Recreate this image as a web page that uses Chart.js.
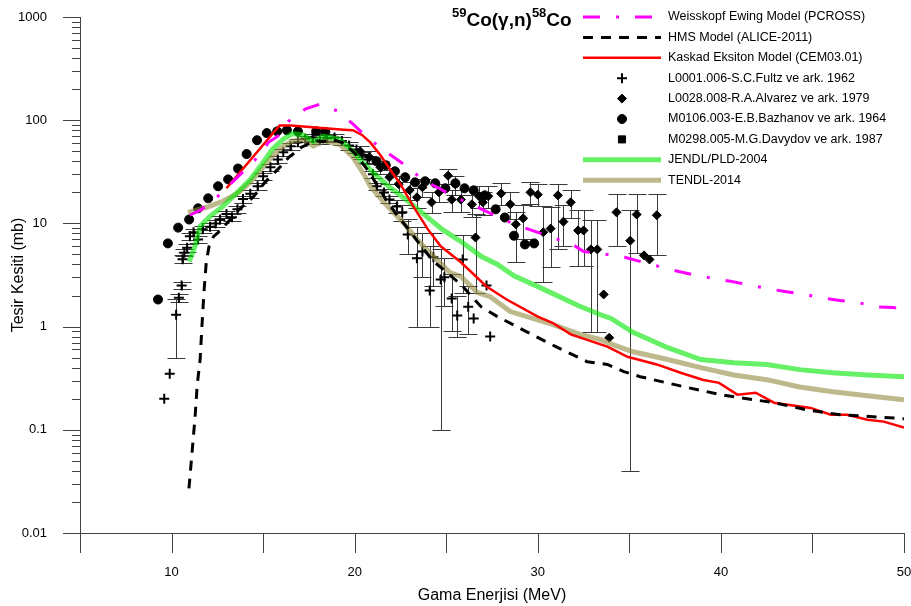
<!DOCTYPE html>
<html>
<head>
<meta charset="utf-8">
<script src="https://cdn.jsdelivr.net/npm/chart.js@4.4.1/dist/chart.umd.min.js"></script>
<style>
html, body { margin: 0; padding: 0; background: #fff; }
#wrap { width: 911px; height: 606px; }
</style>
</head>
<body>
<div id="wrap"><canvas id="chart" width="911" height="606"></canvas></div>
<script>
// axis ranges and tick labels
const xMin = 5, xMax = 50;
const xTickLabels = [10, 20, 30, 40, 50];
const yMajorTicks = [0.01, 0.1, 1, 10, 100, 1000];
const yMinorSteps = [2, 3, 4, 5, 6, 7, 8, 9];

// Weisskopf Ewing Model (PCROSS)
const pcrossE = [11.0, 11.6, 12.3, 13.5, 14.5, 15.3, 15.8, 16.4, 17.3, 18.1, 19.1, 19.9, 20.5, 21.3, 22.2, 22.9, 23.7, 24.7, 25.4, 27.3, 28.1, 29.1, 30.0, 30.8, 31.9, 32.5, 33.8, 34.8, 35.8, 36.6, 37.7, 38.7, 39.6, 40.6, 41.7, 42.5, 43.5, 44.6, 45.4, 46.5, 47.5, 48.4, 49.4, 50.0];
const pcrossV = [12, 13.5, 16.7, 27, 40, 61, 70, 98, 128, 143, 122, 92, 73, 56, 43, 35, 26.7, 21.4, 18.3, 12.8, 10.9, 9.3, 8.2, 7.3, 6.25, 5.35, 5.0, 4.68, 4.18, 3.83, 3.42, 3.13, 2.92, 2.73, 2.5, 2.34, 2.19, 2.05, 1.91, 1.79, 1.71, 1.56, 1.53, 1.48];

// HMS Model (ALICE-2011)
const hmsE = [10.95, 11.28, 11.4, 11.56, 11.68, 11.78, 11.9, 12.05, 12.3, 12.55, 13.1, 13.7, 14.45, 15.1, 15.8, 16.4, 17.1, 17.8, 18.3, 18.8, 19.4, 20.0, 20.6, 21.2, 21.8, 22.4, 23.0, 23.7, 24.3, 24.9, 25.8, 26.9, 27.8, 29.4, 31.1, 32.7, 33.8, 34.7, 35.6, 36.3, 38.2, 40.0, 41.1, 42.9, 44.7, 46.5, 48.3, 50.0];
const hmsV = [0.027, 0.13, 0.27, 0.48, 1.17, 2.3, 4.3, 6.0, 7.5, 8.2, 10.4, 13.7, 17.9, 25, 33.4, 43.6, 54.7, 63, 62, 65, 60, 48, 35, 24, 16, 11.5, 8.5, 5.8, 4.3, 3.5, 2.56, 1.56, 1.25, 0.89, 0.625, 0.457, 0.43, 0.366, 0.327, 0.306, 0.256, 0.219, 0.204, 0.183, 0.156, 0.14, 0.134, 0.128];

// Kaskad Eksiton Model (CEM03.01)
const cemE = [13.0, 15.9, 16.5, 19.4, 19.9, 20.4, 20.85, 21.4, 21.9, 22.5, 23.2, 24.0, 24.7, 25.8, 27.2, 28.3, 30.0, 30.8, 31.8, 33.8, 34.9, 36.5, 37.8, 39.0, 39.9, 40.9, 41.9, 42.9, 44.9, 46.0, 46.9, 48.0, 48.9, 50.0];
const cemV = [21.9, 89, 89, 81, 80, 72, 61, 46, 34, 24, 14.6, 8.75, 6.0, 4.2, 2.45, 1.83, 1.25, 1.09, 0.84, 0.64, 0.51, 0.43, 0.357, 0.306, 0.285, 0.219, 0.229, 0.183, 0.163, 0.14, 0.14, 0.125, 0.12, 0.105];

// JENDL/PLD-2004
const jendlE = [10.96, 11.28, 11.56, 12.1, 12.8, 13.6, 14.3, 15.0, 15.5, 16.1, 16.6, 17.2, 17.75, 18.3, 19.2, 19.9, 20.5, 21.2, 21.9, 23.0, 24.1, 24.8, 25.9, 26.9, 27.8, 28.7, 30.1, 32.2, 33.4, 34.0, 35.2, 37.1, 38.9, 40.7, 42.5, 44.3, 46.1, 48.0, 50.0];
const jendlV = [4.27, 6.0, 9.4, 11.7, 14.6, 20, 26.7, 39, 52, 65.5, 74, 72, 62, 70, 65, 50, 38, 29, 22.5, 16, 11, 8.7, 6.5, 4.8, 4.0, 3.1, 2.4, 1.6, 1.31, 1.2, 0.88, 0.625, 0.48, 0.447, 0.43, 0.383, 0.357, 0.34, 0.327];

// TENDL-2014
const tendlE = [10.9, 12.0, 12.8, 13.6, 14.3, 15.0, 15.5, 16.1, 16.6, 17.2, 17.75, 18.3, 19.2, 19.9, 20.5, 20.85, 21.6, 22.65, 23.4, 24.3, 25.2, 25.8, 26.7, 27.4, 28.5, 30.8, 32.3, 33.4, 34.1, 35.2, 36.0, 37.1, 38.9, 40.7, 42.5, 44.3, 46.1, 48.0, 50.0];
const tendlV = [12.8, 14.5, 16.4, 19.5, 25, 35, 45, 56, 63, 65, 56, 63, 58, 44, 30, 23, 16, 10.2, 7, 4.8, 3.34, 3.06, 2.14, 1.95, 1.4, 1.05, 0.84, 0.75, 0.67, 0.57, 0.53, 0.48, 0.4, 0.34, 0.306, 0.26, 0.234, 0.214, 0.195];

// L0001.006 S.C.Fultz 1962 (value, lower and upper error bound)
const fultzE = [9.6, 9.9, 10.25, 10.4, 10.55, 10.6, 10.7, 10.85, 11.0, 11.2, 11.45, 11.7, 12.1, 12.4, 12.65, 13.0, 13.3, 13.6, 13.9, 14.3, 14.7, 15.0, 15.4, 15.8, 16.1, 16.5, 16.9, 17.3, 17.7, 18.1, 18.5, 18.9, 19.3, 19.7, 20.1, 20.4, 20.7, 21.0, 21.2, 21.6, 21.9, 22.3, 22.6, 22.9, 23.4, 23.7, 24.1, 24.3, 24.7, 24.9, 25.3, 25.6, 25.9, 26.2, 26.5, 27.2, 27.4];
const fultzV = [0.2, 0.35, 1.3, 1.9, 2.5, 4.5, 5.2, 5.8, 7.5, 8.2, 7.0, 8.8, 9.3, 10.0, 10.9, 12.3, 11.5, 13.7, 17.2, 19.4, 22.9, 28.6, 35, 41.7, 49, 56, 61, 66, 68, 64, 67, 68, 63, 57, 52, 46, 41.7, 30, 22.9, 19.9, 17, 14.6, 12.8, 7.8, 4.6, 5.35, 2.24, 4.7, 2.86, 3.0, 1.87, 1.28, 4.47, 1.56, 1.2, 2.5, 0.8];
const fultzLo = [null, null, 0.5, 1.75, 2.3, 4.1, 4.8, 5.3, 6.9, 7.5, 6.4, 8.1, 8.6, 9.2, 10.0, 11.3, 10.6, 12.6, 15.8, 17.8, 21, 26.3, 32.2, 38.4, 45, 51.5, 56, 61, 63, 59, 62, 63, 58, 52, 47.8, 42.3, 38.4, 27.6, 21, 18.3, 15.6, 12.5, 10.5, 5, 1.0, 3.0, 1.0, 2.5, 0.1, 1.6, 0.9, 0.8, 2.14, 0.85, null, null, null];
const fultzHi = [null, null, 1.85, 2.05, 2.7, 4.9, 5.6, 6.3, 8.1, 8.9, 7.6, 9.5, 10.1, 10.8, 11.8, 13.3, 12.4, 14.8, 18.6, 21, 24.8, 30.9, 37.8, 45, 53, 60.5, 66, 71, 73, 69, 72, 73, 68, 62, 56.2, 49.7, 45, 32.4, 24.8, 21.5, 18.4, 16.7, 15.1, 11, 9.3, 8.0, 6.0, 8.0, 5.6, 4.6, 3.2, 2.0, 7.8, 2.5, null, null, null];

// L0028.008 R.A.Alvarez 1979
const alvarezE = [20.3, 20.8, 21.4, 21.9, 22.4, 23.0, 23.4, 23.7, 24.2, 24.6, 25.1, 25.3, 25.5, 25.8, 26.4, 26.6, 26.8, 27.0, 27.3, 28.0, 28.5, 28.8, 29.2, 29.6, 30.0, 30.3, 30.7, 31.1, 31.4, 31.8, 32.2, 32.5, 32.9, 33.25, 33.6, 33.9, 34.3, 35.05, 35.4, 35.8, 36.1, 36.5];
const alvarezV = [50, 44, 35, 28, 24, 21, 17.9, 22.4, 16, 20, 29, 17, 23.9, 17, 15.3, 7.3, 18.3, 16, 18.3, 19.5, 15.3, 9.8, 11.2, 20, 19, 8.2, 8.9, 18.7, 10.4, 16, 8.55, 8.55, 5.6, 5.6, 2.05, 0.78, 12.8, 6.8, 12.2, 4.9, 4.47, 12];
const alvarezLo = [44, 38, 30, 24, 20, 17, 14, 18, 12.5, 16, 24, 13, 19, 13, 11.5, 2.14, 14, 12, 14, 15, 11, 4.2, 7, 15.5, 14.6, 2.73, 3.74, 5.6, 6, 11.4, 3.9, 3.9, 0.89, 0.89, null, null, 6.0, 0.04, 5.2, null, null, 4.9];
const alvarezHi = [56, 50, 40, 33, 29, 25, 22, 27, 20, 24, 34, 21, 29, 21, 19, 12.2, 23, 20, 23, 24.5, 20, 13, 15, 25, 24, 14.6, 14.3, 23.9, 15, 20.9, 13.6, 13.6, 10.9, 10.9, null, null, 19.2, 13.6, 19.2, null, null, 19.2];

// M0106.003 E.B.Bazhanov 1964
const bazhanovE = [9.26, 9.8, 10.36, 10.96, 11.45, 12.0, 12.54, 13.09, 13.63, 14.1, 14.67, 15.2, 15.77, 16.3, 16.9, 17.9, 18.4, 21.2, 21.7, 22.2, 22.76, 23.3, 23.85, 24.4, 24.95, 25.5, 26.0, 26.5, 27.1, 27.7, 28.2, 28.7, 29.3, 29.8];
const bazhanovV = [1.83, 6.4, 9.1, 10.9, 14, 17.5, 22.9, 26.7, 34, 47, 64, 75, 78, 80, 78, 78, 77, 40, 36.6, 32, 28, 25, 25.6, 24.5, 21.9, 24.5, 21.9, 20.9, 18.7, 13.7, 11.4, 7.6, 6.25, 6.4];

// M0298.005 M.G.Davydov 1987 (no point visible in the picture)
const davydovE = [];
const davydovV = [];

function pts(xs, ys) {
    return xs.map((x, i) => ({ x: x, y: ys[i] }));
}

// vertical error bars, drawn under the markers
const errorBars = {
    id: 'errorBars',
    beforeDatasetsDraw(chart) {
        const ctx = chart.ctx;
        const xs = chart.scales.x, ys = chart.scales.y;
        const area = chart.chartArea;
        ctx.save();
        ctx.beginPath();
        ctx.rect(area.left, area.top, area.right - area.left, area.bottom - area.top);
        ctx.clip();
        ctx.strokeStyle = '#3a3a3a';
        ctx.lineWidth = 1;
        chart.data.datasets.forEach(ds => {
            if (!ds.errLo) return;
            ds.data.forEach((p, i) => {
                const lo = ds.errLo[i], hi = ds.errHi[i];
                if (lo == null || hi == null) return;
                const px = Math.round(xs.getPixelForValue(p.x)) + 0.5;
                const y1 = Math.round(ys.getPixelForValue(lo)) + 0.5;
                const y2 = Math.round(ys.getPixelForValue(hi)) + 0.5;
                ctx.beginPath();
                ctx.moveTo(px, y1); ctx.lineTo(px, y2);
                ctx.moveTo(px - 9, y1); ctx.lineTo(px + 9, y1);
                ctx.moveTo(px - 9, y2); ctx.lineTo(px + 9, y2);
                ctx.stroke();
            });
        });
        ctx.restore();
    }
};

// axis lines and tick marks
const axesPlugin = {
    id: 'axesPlugin',
    afterDraw(chart) {
        const ctx = chart.ctx;
        const xs = chart.scales.x, ys = chart.scales.y;
        const a = chart.chartArea;
        ctx.save();
        ctx.strokeStyle = '#444';
        ctx.lineWidth = 1;
        ctx.beginPath();
        ctx.moveTo(a.left + 0.5, a.top);
        ctx.lineTo(a.left + 0.5, a.bottom);
        ctx.moveTo(a.left, a.bottom + 0.5);
        ctx.lineTo(a.right, a.bottom + 0.5);
        for (let v = xMin; v <= xMax; v += 5) {
            const px = Math.round(xs.getPixelForValue(v)) + 0.5;
            ctx.moveTo(px, a.bottom);
            ctx.lineTo(px, a.bottom + 20);
        }
        yMajorTicks.forEach((t, k) => {
            const py = Math.round(ys.getPixelForValue(t)) + 0.5;
            ctx.moveTo(a.left - 17, py);
            ctx.lineTo(a.left, py);
            if (k < yMajorTicks.length - 1) {
                yMinorSteps.forEach(m => {
                    const qy = Math.round(ys.getPixelForValue(t * m)) + 0.5;
                    ctx.moveTo(a.left - 8, qy);
                    ctx.lineTo(a.left, qy);
                });
            }
        });
        ctx.stroke();
        ctx.restore();
    }
};

// title and legend in the top right
const legendPlugin = {
    id: 'legendPlugin',
    afterDraw(chart) {
        const ctx = chart.ctx;
        ctx.save();
        ctx.fillStyle = '#000';
        ctx.textBaseline = 'alphabetic';
        let tx = 452;
        const parts = [['59', true], ['Co(γ,n)', false], ['58', true], ['Co', false]];
        parts.forEach(([s, sup]) => {
            ctx.font = sup ? 'bold 13px "Liberation Sans", Arial' : 'bold 19px "Liberation Sans", Arial';
            ctx.fillText(s, tx, sup ? 17 : 26);
            tx += ctx.measureText(s).width;
        });
        ctx.font = '12.5px "Liberation Sans", Arial';
        ctx.textBaseline = 'middle';
        chart.data.datasets.forEach((ds, i) => {
            const y = 17 + i * 20.4;
            if (ds.showLine) {
                ctx.save();
                ctx.strokeStyle = ds.borderColor;
                ctx.lineWidth = ds.borderWidth;
                ctx.setLineDash(ds.borderDash || []);
                ctx.beginPath();
                ctx.moveTo(583, y);
                ctx.lineTo(661, y);
                ctx.stroke();
                ctx.restore();
            } else {
                ctx.save();
                ctx.fillStyle = '#000';
                ctx.strokeStyle = '#000';
                ctx.lineWidth = ds.borderWidth;
                Chart.helpers.drawPoint(ctx, {
                    pointStyle: ds.pointStyle, radius: ds.pointRadius,
                    borderWidth: ds.borderWidth, rotation: 0
                }, 622, y);
                ctx.restore();
            }
            ctx.fillStyle = '#000';
            ctx.fillText(ds.label, 668, y);
        });
        ctx.restore();
    }
};

function lineSet(label, xs, ys, color, width, dash, order) {
    return {
        label: label, data: pts(xs, ys), showLine: true,
        borderColor: color, borderWidth: width, borderDash: dash,
        pointRadius: 0, fill: false, tension: 0, order: order
    };
}

function markSet(label, xs, ys, style, radius, lo, hi) {
    return {
        label: label, data: pts(xs, ys), showLine: false,
        pointStyle: style, pointRadius: radius, borderWidth: style === 'cross' ? 2 : 1,
        borderColor: '#000', backgroundColor: '#000', order: 10,
        errLo: lo, errHi: hi
    };
}

new Chart(document.getElementById('chart'), {
    type: 'scatter',
    data: {
        datasets: [
            lineSet('Weisskopf Ewing Model (PCROSS)', pcrossE, pcrossV, '#ff00ff', 3, [17, 16, 3, 16], 1),
            lineSet('HMS Model (ALICE-2011)', hmsE, hmsV, '#000000', 3, [10, 8], 2),
            lineSet('Kaskad Eksiton Model (CEM03.01)', cemE, cemV, '#ff0000', 2.5, [], 3),
            markSet('L0001.006-S.C.Fultz ve ark. 1962', fultzE, fultzV, 'cross', 5, fultzLo, fultzHi),
            markSet('L0028.008-R.A.Alvarez ve ark. 1979', alvarezE, alvarezV, 'rectRot', 4.5, alvarezLo, alvarezHi),
            markSet('M0106.003-E.B.Bazhanov ve ark. 1964', bazhanovE, bazhanovV, 'circle', 4.5, null, null),
            markSet('M0298.005-M.G.Davydov ve ark. 1987', davydovE, davydovV, 'rect', 5, null, null),
            lineSet('JENDL/PLD-2004', jendlE, jendlV, 'rgba(0,230,0,0.6)', 5, [], 5),
            lineSet('TENDL-2014', tendlE, tendlV, 'rgba(147,138,63,0.6)', 5, [], 6)
        ]
    },
    options: {
        responsive: false,
        animation: false,
        devicePixelRatio: 1,
        layout: { padding: { top: 17, right: 7, left: 0, bottom: 0 } },
        plugins: {
            legend: { display: false },
            tooltip: { enabled: false }
        },
        scales: {
            x: {
                type: 'linear',
                min: xMin,
                max: xMax,
                grid: { display: false },
                border: { display: false },
                ticks: {
                    stepSize: 5,
                    color: '#000',
                    padding: 24,
                    maxRotation: 0,
                    font: { size: 13, family: '"Liberation Sans", Arial' },
                    callback: v => xTickLabels.includes(v) ? String(v) : ''
                },
                title: {
                    display: true,
                    text: 'Gama Enerjisi (MeV)',
                    color: '#000',
                    padding: { top: 0, bottom: 1 },
                    font: { size: 16, family: '"Liberation Sans", Arial' }
                },
                afterFit: s => { s.height = 73; s.paddingLeft = 0; s.paddingRight = 0; }
            },
            y: {
                type: 'logarithmic',
                min: 0.01,
                max: 1000,
                grid: { display: false },
                border: { display: false },
                afterBuildTicks: s => { s.ticks = yMajorTicks.map(v => ({ value: v })); },
                ticks: {
                    color: '#000',
                    padding: 25,
                    font: { size: 13, family: '"Liberation Sans", Arial' },
                    callback: v => String(v)
                },
                title: {
                    display: true,
                    text: 'Tesir Kesiti (mb)',
                    color: '#000',
                    padding: { top: 9, bottom: 0 },
                    font: { size: 16, family: '"Liberation Sans", Arial' }
                },
                afterFit: s => { s.width = 80; s.paddingTop = 0; s.paddingBottom = 0; }
            }
        }
    },
    plugins: [errorBars, axesPlugin, legendPlugin]
});
</script>
</body>
</html>
